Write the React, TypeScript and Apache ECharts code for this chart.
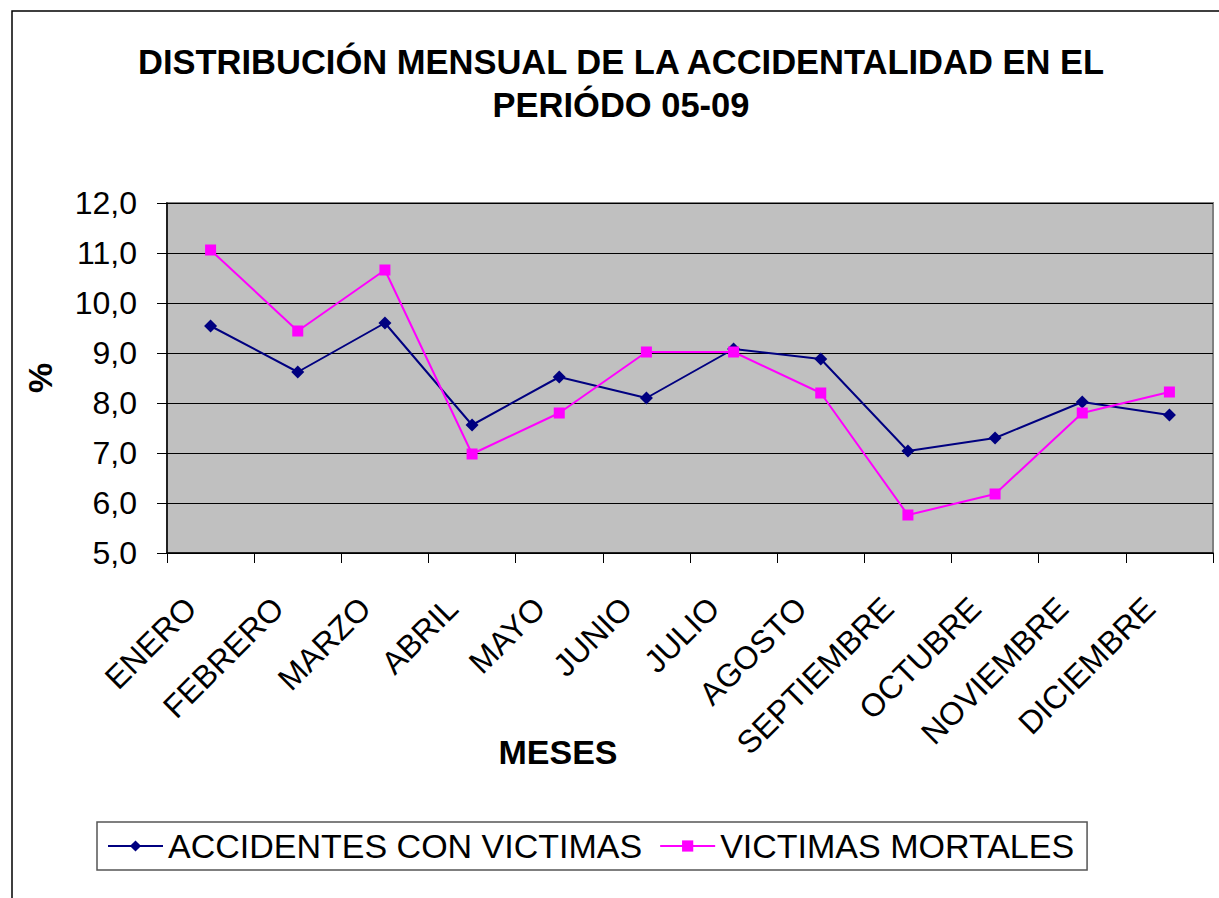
import React, { useEffect, useRef } from "react";
import * as echarts from "echarts";

const months = [
  "ENERO", "FEBRERO", "MARZO", "ABRIL", "MAYO", "JUNIO",
  "JULIO", "AGOSTO", "SEPTIEMBRE", "OCTUBRE", "NOVIEMBRE", "DICIEMBRE",
];
const accidentesConVictimas = [9.54, 8.62, 9.6, 7.56, 8.52, 8.1, 9.08, 8.88, 7.04, 7.3, 8.02, 7.76];
const victimasMortales = [11.06, 9.44, 10.66, 6.98, 7.8, 9.02, 9.02, 8.2, 5.76, 6.18, 7.8, 8.22];
const seriesNames = ["ACCIDENTES CON VICTIMAS", "VICTIMAS MORTALES"];
const titleLines = ["DISTRIBUCIÓN MENSUAL DE LA ACCIDENTALIDAD EN EL", "PERIÓDO 05-09"];
const yAxisName = "%";
const xAxisName = "MESES";
const yMin = 5;
const yMax = 12;
const yStep = 1;

const FONT = "'Liberation Sans', Arial, sans-serif";

export default function App() {
  const ref = useRef<HTMLDivElement>(null);

  useEffect(() => {
    if (!ref.current) return;
    const chart = echarts.init(ref.current, undefined, { renderer: "svg" });
    chart.setOption({
      animation: false,
      backgroundColor: "#ffffff",
      textStyle: { fontFamily: FONT },
      grid: {
        left: 167,
        top: 203,
        right: 6,
        bottom: 345,
        show: true,
        backgroundColor: "#c0c0c0",
        borderColor: "#808080",
        borderWidth: 2,
        containLabel: false,
      },
      legend: {
        left: 97,
        top: 822,
        orient: "horizontal",
        padding: [7, 13, 7, 10],
        itemGap: 17,
        itemWidth: 55,
        itemHeight: 14,
        borderColor: "#555555",
        borderWidth: 1.5,
        backgroundColor: "#ffffff",
        textStyle: { fontSize: 34, color: "#000000", fontFamily: FONT },
        data: seriesNames,
      },
      xAxis: {
        type: "category",
        data: months,
        boundaryGap: true,
        axisLine: { show: true, lineStyle: { color: "#000000", width: 1.5 } },
        axisTick: { show: true, length: 10, inside: false, lineStyle: { color: "#000000", width: 1 } },
        axisLabel: {
          rotate: 45,
          interval: 0,
          margin: 30,
          padding: [0, 28, 0, 0],
          fontSize: 32,
          color: "#000000",
          fontFamily: FONT,
        },
        splitLine: { show: false },
      },
      yAxis: {
        type: "value",
        min: yMin,
        max: yMax,
        interval: yStep,
        axisLine: { show: true, lineStyle: { color: "#000000", width: 1.5 } },
        axisTick: { show: true, length: 10, inside: false, lineStyle: { color: "#000000", width: 1 } },
        axisLabel: {
          margin: 30,
          fontSize: 32,
          color: "#000000",
          fontFamily: FONT,
          formatter: (v: number) => v.toFixed(1).replace(".", ","),
        },
        splitLine: { show: true, lineStyle: { color: "#000000", width: 1 } },
      },
      graphic: [
        {
          type: "rect",
          silent: true,
          shape: { x: 12, y: 11, width: 1400, height: 1000 },
          style: { fill: "none", stroke: "#000000", lineWidth: 1.5 },
          z: -10,
        },
        {
          type: "text",
          x: 621,
          y: 62,
          style: {
            text: titleLines[0],
            font: `bold 34.5px ${FONT}`,
            fill: "#000000",
            textAlign: "center",
            textVerticalAlign: "middle",
          },
        },
        {
          type: "text",
          x: 621,
          y: 105,
          style: {
            text: titleLines[1],
            font: `bold 34.5px ${FONT}`,
            fill: "#000000",
            textAlign: "center",
            textVerticalAlign: "middle",
          },
        },
        {
          type: "text",
          x: 40,
          y: 378,
          rotation: Math.PI / 2,
          style: {
            text: yAxisName,
            font: `bold 34px ${FONT}`,
            fill: "#000000",
            textAlign: "center",
            textVerticalAlign: "middle",
          },
        },
        {
          type: "text",
          x: 558,
          y: 752,
          style: {
            text: xAxisName,
            font: `bold 34px ${FONT}`,
            fill: "#000000",
            textAlign: "center",
            textVerticalAlign: "middle",
          },
        },
      ],
      series: [
        {
          name: seriesNames[0],
          type: "line",
          data: accidentesConVictimas,
          symbol: "diamond",
          symbolSize: 13,
          lineStyle: { color: "#000080", width: 2 },
          itemStyle: { color: "#000080" },
        },
        {
          name: seriesNames[1],
          type: "line",
          data: victimasMortales,
          symbol: "rect",
          symbolSize: 11,
          lineStyle: { color: "#ff00ff", width: 2 },
          itemStyle: { color: "#ff00ff" },
        },
      ],
    });
    return () => chart.dispose();
  }, []);

  return (
    <div
      ref={ref}
      style={{ position: "fixed", left: 0, top: 0, width: 1219, height: 898 }}
    />
  );
}
